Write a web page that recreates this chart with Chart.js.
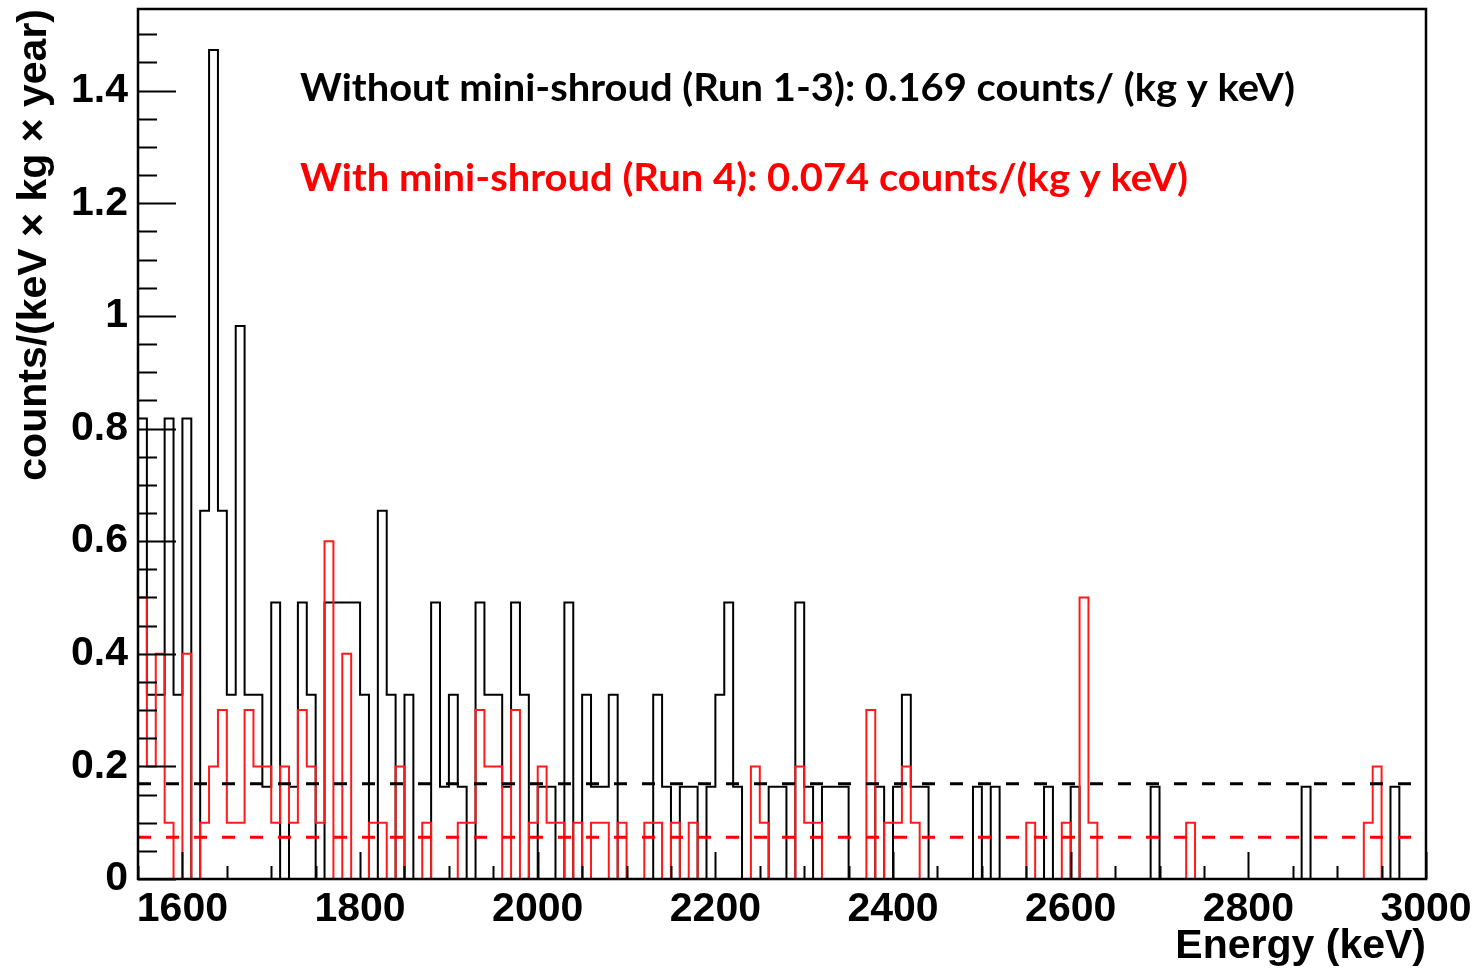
<!DOCTYPE html>
<html>
<head>
<meta charset="utf-8">
<script src="https://cdn.jsdelivr.net/npm/chart.js@4.4.1/dist/chart.umd.min.js"></script>
<style>
  html, body { margin: 0; padding: 0; background: #ffffff; }
  #wrap { width: 1479px; height: 971px; position: relative; }
</style>
</head>
<body>
<div id="wrap"><canvas id="c"></canvas></div>
<script>
// ---- data ----
const binStart = 1550;   // keV, left edge of first bin
const binWidth = 10;     // keV
const xMin = 1550, xMax = 3000;
const yMin = 0, yMax = 1.545;

// Without mini-shroud (Run 1-3)
const blackHist = [
  0.818, 0.327, 0.327, 0.818, 0.327, 0.818, 0, 0.654, 1.472, 0.654,
  0.327, 0.982, 0.327, 0.327, 0.164, 0.491, 0, 0.164, 0.491, 0.327,
  0, 0.491, 0.491, 0.491, 0.491, 0.327, 0, 0.654, 0.327, 0,
  0.327, 0, 0, 0.491, 0.164, 0.327, 0.164, 0, 0.491, 0.327,
  0.327, 0.164, 0.491, 0.327, 0, 0.164, 0.164, 0, 0.491, 0,
  0.327, 0.164, 0.164, 0.327, 0, 0, 0, 0, 0.327, 0.164,
  0, 0.164, 0.164, 0, 0.164, 0.327, 0.491, 0.164, 0, 0,
  0, 0.164, 0.164, 0, 0.491, 0.164, 0, 0.164, 0.164, 0.164,
  0, 0, 0, 0.164, 0, 0.164, 0.327, 0.164, 0.164, 0,
  0, 0, 0, 0, 0.164, 0, 0.164, 0, 0, 0,
  0, 0, 0.164, 0, 0, 0.164, 0, 0, 0, 0,
  0, 0, 0, 0, 0.164, 0, 0, 0, 0, 0,
  0, 0, 0, 0, 0, 0, 0, 0, 0, 0,
  0, 0.164, 0, 0, 0, 0, 0, 0, 0, 0,
  0, 0.164, 0, 0, 0
];

// With mini-shroud (Run 4)
const redHist = [
  0.5, 0.2, 0.4, 0.1, 0, 0.4, 0, 0.1, 0.2, 0.3,
  0.1, 0.1, 0.3, 0.2, 0.2, 0.1, 0.2, 0.1, 0.3, 0.2,
  0.1, 0.6, 0, 0.4, 0, 0, 0.1, 0.1, 0, 0.2,
  0, 0, 0.1, 0, 0, 0, 0.1, 0.1, 0.3, 0.2,
  0.2, 0, 0.3, 0, 0.1, 0.2, 0.1, 0.1, 0, 0.1,
  0, 0.1, 0.1, 0, 0.1, 0, 0, 0.1, 0.1, 0,
  0.1, 0, 0.1, 0, 0, 0, 0, 0, 0, 0.2,
  0.1, 0, 0, 0, 0.2, 0.1, 0.1, 0, 0, 0,
  0, 0, 0.3, 0, 0.1, 0.1, 0.2, 0.1, 0, 0,
  0, 0, 0, 0, 0, 0, 0, 0, 0, 0,
  0.1, 0, 0, 0, 0.1, 0, 0.5, 0.1, 0, 0,
  0, 0, 0, 0, 0, 0, 0, 0, 0.1, 0,
  0, 0, 0, 0, 0, 0, 0, 0, 0, 0,
  0, 0, 0, 0, 0, 0, 0, 0, 0.1, 0.2,
  0, 0, 0, 0, 0
];

const blackLevel = 0.169;
const redLevel = 0.074;

const xTickLabels = [1600, 1800, 2000, 2200, 2400, 2600, 2800, 3000];
const yTickLabels = [0, 0.2, 0.4, 0.6, 0.8, 1, 1.2, 1.4];

const xTitle = 'Energy (keV)';
const yTitle = 'counts/(keV \u00d7 kg \u00d7 year)';
const noteBlack = 'Without mini-shroud (Run 1-3): 0.169 counts/ (kg y keV)';
const noteRed = 'With mini-shroud (Run 4): 0.074 counts/(kg y keV)';

// ---- helpers ----
function histPoints(vals) {
  const pts = vals.map((v, i) => ({ x: binStart + i * binWidth, y: v }));
  pts.push({ x: binStart + vals.length * binWidth, y: vals[vals.length - 1] });
  return pts;
}
function levelPoints(v) {
  return [{ x: xMin, y: v }, { x: xMax, y: v }];
}

const axisFont = { family: "'Liberation Sans', Arial, sans-serif", size: 41, weight: 'bold' };

const framePlugin = {
  id: 'rootFrame',
  afterDatasetsDraw(chart) {
    const { ctx, chartArea: a, scales } = chart;
    ctx.save();
    ctx.strokeStyle = '#000';
    ctx.lineWidth = 2;
    scales.y.ticks.forEach(t => {
      const py = Math.round(scales.y.getPixelForValue(t.value)) + 0.5;
      const len = t.major ? 38 : 19;
      ctx.beginPath();
      ctx.moveTo(a.left, py);
      ctx.lineTo(a.left + len, py);
      ctx.stroke();
    });
    scales.x.ticks.forEach(t => {
      const px = Math.round(scales.x.getPixelForValue(t.value)) + 0.5;
      const len = t.major ? 27 : 13;
      ctx.beginPath();
      ctx.moveTo(px, a.bottom);
      ctx.lineTo(px, a.bottom - len);
      ctx.stroke();
    });
    ctx.lineWidth = 2.5;
    ctx.strokeRect(a.left, a.top, a.right - a.left, a.bottom - a.top);
    ctx.restore();
  }
};

const notesPlugin = {
  id: 'notes',
  afterDraw(chart, args, opts) {
    const { ctx } = chart;
    ctx.save();
    ctx.textBaseline = 'alphabetic';
    ctx.textAlign = 'left';
    opts.items.forEach(it => {
      ctx.font = `bold ${it.size}px ${it.family}`;
      const w = ctx.measureText(it.text).width;
      const sx = it.width / w;
      ctx.save();
      ctx.translate(it.x, it.y);
      ctx.scale(sx, 1);
      ctx.fillStyle = it.color;
      ctx.fillText(it.text, 0, 0);
      ctx.restore();
    });
    ctx.restore();
  }
};

new Chart(document.getElementById('c'), {
  type: 'line',
  data: {
    datasets: [
      { label: 'Run 4 mean', data: levelPoints(redLevel), borderColor: '#ff0000', borderWidth: 3,
        borderDash: [13, 15], pointRadius: 0, fill: false },
      { label: 'Run 1-3 mean', data: levelPoints(blackLevel), borderColor: '#000000', borderWidth: 3,
        borderDash: [13, 15], pointRadius: 0, fill: false },
      { label: 'With mini-shroud (Run 4)', data: histPoints(redHist), borderColor: '#ff1a1a', borderWidth: 2,
        stepped: 'before', pointRadius: 0, fill: false },
      { label: 'Without mini-shroud (Run 1-3)', data: histPoints(blackHist), borderColor: '#000000', borderWidth: 2,
        stepped: 'before', pointRadius: 0, fill: false }
    ]
  },
  options: {
    responsive: true,
    maintainAspectRatio: false,
    animation: false,
    layout: { padding: { left: 0, right: 53, top: 9, bottom: 0 } },
    plugins: {
      legend: { display: false },
      tooltip: { enabled: false },
      notes: {
        items: [
          { text: noteBlack, x: 300, y: 101, width: 995, size: 38, family: "Lato, 'Open Sans', sans-serif", color: '#000000' },
          { text: noteRed, x: 300, y: 191, width: 888, size: 38, family: "Lato, 'Open Sans', sans-serif", color: '#ff0000' }
        ]
      }
    },
    scales: {
      x: {
        type: 'linear',
        min: xMin, max: xMax,
        afterBuildTicks(scale) {
          const t = [];
          for (let v = xMin; v <= xMax; v += 50) t.push({ value: v, major: xTickLabels.includes(v) });
          scale.ticks = t;
        },
        afterFit(scale) {
          scale.height = 92;
          scale.paddingLeft = 0; scale.paddingRight = 0;
        },
        grid: { display: false, drawTicks: false },
        border: { display: false },
        ticks: {
          autoSkip: false, maxRotation: 0, minRotation: 0, padding: 6, color: '#000',
          font: axisFont,
          callback: (v) => xTickLabels.includes(v) ? String(v) : ''
        },
        title: { display: true, text: xTitle, align: 'end', color: '#000', font: axisFont,
                 padding: { top: 0, bottom: 0 } }
      },
      y: {
        type: 'linear',
        min: yMin, max: yMax,
        afterBuildTicks(scale) {
          const t = [];
          for (let k = 0; k <= 30; k++) {
            const v = Math.round(k * 5) / 100;
            t.push({ value: v, major: k % 4 === 0 });
          }
          scale.ticks = t;
        },
        afterFit(scale) {
          scale.width = 138;
          scale.paddingTop = 0; scale.paddingBottom = 0;
        },
        grid: { display: false, drawTicks: false },
        border: { display: false },
        ticks: {
          autoSkip: false, padding: 10, color: '#000',
          font: axisFont,
          callback: (v) => {
            const hit = yTickLabels.find(l => Math.abs(l - v) < 1e-6);
            return hit === undefined ? '' : String(hit);
          }
        },
        title: { display: true, text: yTitle, align: 'end', color: '#000', font: axisFont,
                 padding: { top: 10, bottom: 0 } }
      }
    }
  },
  plugins: [framePlugin, notesPlugin]
});
</script>
</body>
</html>
